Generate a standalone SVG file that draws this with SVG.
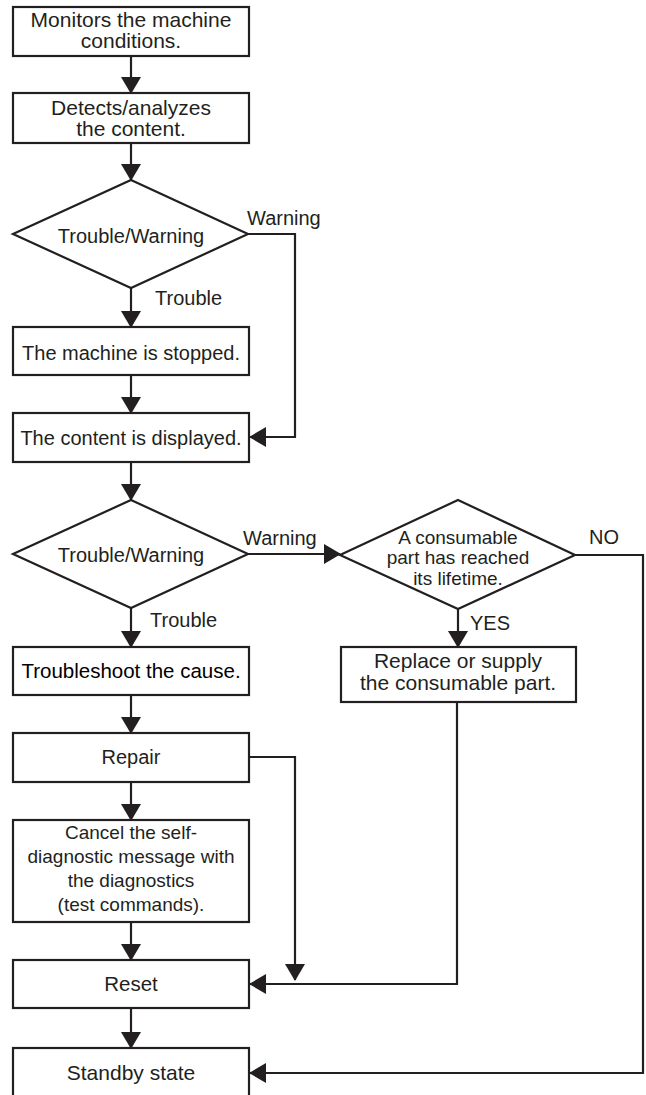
<svg xmlns="http://www.w3.org/2000/svg" width="646" height="1095" viewBox="0 0 646 1095">
<style>
.box{fill:#fff;stroke:#231f20;stroke-width:2.2}
.c{fill:none;stroke:#231f20;stroke-width:2.2}
text{font-family:"Liberation Sans",Arial,sans-serif;fill:#231f20;font-size:20px}
.m{text-anchor:middle}
</style>
<defs>
<marker id="ah" viewBox="0 0 17 20" refX="16" refY="10" markerWidth="17" markerHeight="20" markerUnits="userSpaceOnUse" orient="auto">
<path d="M0,0 L17,10 L0,20 z" fill="#231f20"/>
</marker>
</defs>
<rect width="646" height="1095" fill="#fff"/>
<g id="connectors">
<path class="c" d="M131,56 V93" marker-end="url(#ah)"/>
<path class="c" d="M131,143 V180" marker-end="url(#ah)"/>
<path class="c" d="M131,288 V327" marker-end="url(#ah)"/>
<path class="c" d="M131,375 V413" marker-end="url(#ah)"/>
<path class="c" d="M248,234 H295 V437 H250" marker-end="url(#ah)"/>
<path class="c" d="M131,462 V500" marker-end="url(#ah)"/>
<path class="c" d="M248,554 H340" marker-end="url(#ah)"/>
<path class="c" d="M458,609 V647" marker-end="url(#ah)"/>
<path class="c" d="M575,555 H643 V1073 H250" marker-end="url(#ah)"/>
<path class="c" d="M131,608 V647" marker-end="url(#ah)"/>
<path class="c" d="M131,695 V733" marker-end="url(#ah)"/>
<path class="c" d="M249,757 H295 V980" marker-end="url(#ah)"/>
<path class="c" d="M131,782 V820" marker-end="url(#ah)"/>
<path class="c" d="M457,702 V984 H250" marker-end="url(#ah)"/>
<path class="c" d="M131,922 V960" marker-end="url(#ah)"/>
<path class="c" d="M131,1008 V1048" marker-end="url(#ah)"/>
<text x="247" y="225">Warning</text>
<text x="155" y="305">Trouble</text>
<text x="243" y="545">Warning</text>
<text x="150" y="627">Trouble</text>
<text x="589" y="544">NO</text>
<text x="470" y="630">YES</text>
</g>
<g id="n1">
<rect class="box" x="13" y="7" width="236" height="49"/>
<text class="m" x="131" y="27" style="font-size:21px">Monitors the machine</text>
<text class="m" x="131" y="48" style="font-size:21px">conditions.</text>
</g>
<g id="n2">
<rect class="box" x="13" y="93" width="236" height="50"/>
<text class="m" x="131" y="115" style="font-size:21px">Detects/analyzes</text>
<text class="m" x="131" y="136" style="font-size:21px">the content.</text>
</g>
<g id="d1">
<polygon class="box" points="131,180 248,234 131,288 13,234"/>
<text class="m" x="131" y="243">Trouble/Warning</text>
</g>
<g id="n3">
<rect class="box" x="13" y="327" width="236" height="48"/>
<text class="m" x="131" y="360">The machine is stopped.</text>
</g>
<g id="n4">
<rect class="box" x="13" y="413" width="236" height="49"/>
<text class="m" x="131" y="445">The content is displayed.</text>
</g>
<g id="d2">
<polygon class="box" points="131,500 248,554 131,608 13,554"/>
<text class="m" x="131" y="562">Trouble/Warning</text>
</g>
<g id="d3">
<polygon class="box" points="458,500 575,555 458,609 340,555"/>
<text class="m" x="458" y="544" style="font-size:19px">A consumable</text>
<text class="m" x="458" y="564" style="font-size:19px">part has reached</text>
<text class="m" x="458" y="585" style="font-size:19px">its lifetime.</text>
</g>
<g id="n5">
<rect class="box" x="341" y="647" width="235" height="55"/>
<text class="m" x="458" y="668" style="font-size:21px">Replace or supply</text>
<text class="m" x="458" y="690" style="font-size:21px">the consumable part.</text>
</g>
<g id="n6">
<rect class="box" x="13" y="647" width="236" height="48"/>
<text class="m" x="131" y="678" style="font-size:20.5px;fill:#000">Troubleshoot the cause.</text>
</g>
<g id="n7">
<rect class="box" x="13" y="733" width="236" height="49"/>
<text class="m" x="131" y="764">Repair</text>
</g>
<g id="n8">
<rect class="box" x="13" y="820" width="236" height="102"/>
<text class="m" x="131" y="839" style="font-size:19px">Cancel the self-</text>
<text class="m" x="131" y="863" style="font-size:19px">diagnostic message with</text>
<text class="m" x="131" y="887" style="font-size:19px">the diagnostics</text>
<text class="m" x="131" y="911" style="font-size:19px">(test commands).</text>
</g>
<g id="n9">
<rect class="box" x="13" y="960" width="236" height="48"/>
<text class="m" x="131" y="991" style="font-size:20.5px">Reset</text>
</g>
<g id="n10">
<rect class="box" x="13" y="1048" width="236" height="50"/>
<text class="m" x="131" y="1080" style="font-size:21px">Standby state</text>
</g>
</svg>
